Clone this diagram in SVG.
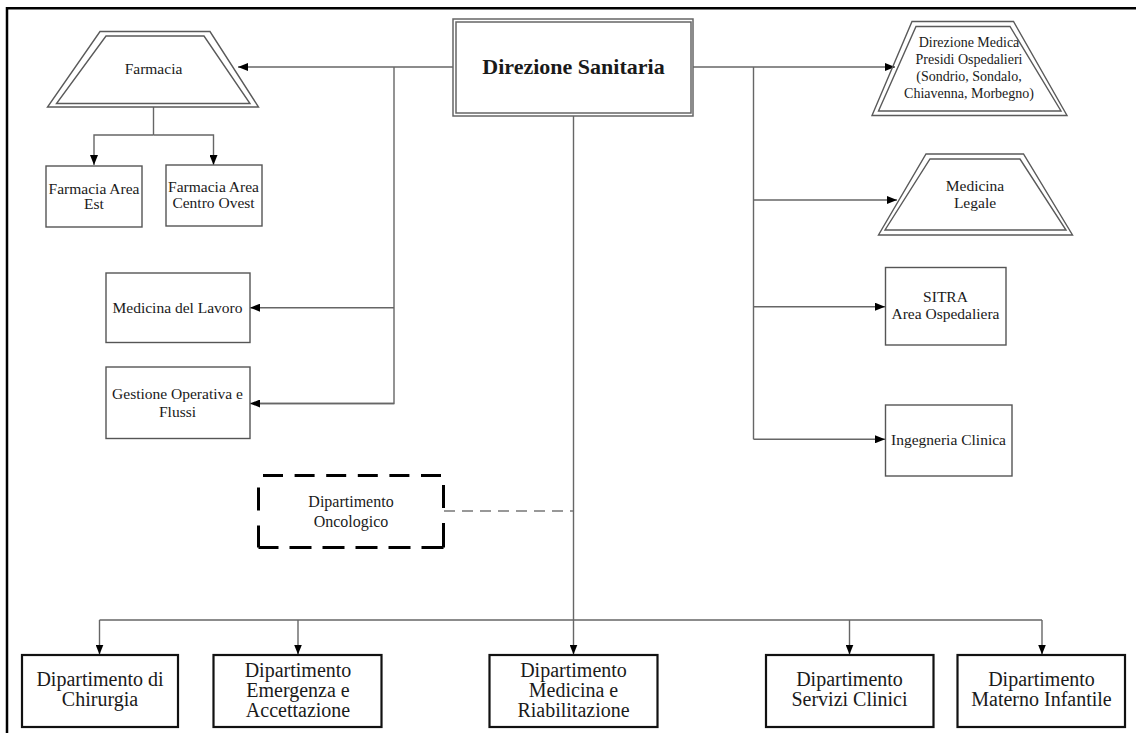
<svg xmlns="http://www.w3.org/2000/svg" width="1136" height="733" viewBox="0 0 1136 733">
  <style>
    .t { font-family: "Liberation Serif", "Times New Roman", serif; fill: #1a1a1a; text-anchor: middle; }
    .s15 { font-size: 15.5px; }
    .s14 { font-size: 14px; }
    .s16 { font-size: 16px; }
    .s20 { font-size: 20px; }
    .box { fill: #ffffff; stroke: #555555; stroke-width: 1.4; }
    .dept { fill: #ffffff; stroke: #111111; stroke-width: 2.2; }
    .dbl { fill: none; stroke: #5a5a5a; stroke-width: 1.4; }
    .con { fill: none; stroke: #666666; stroke-width: 1.4; }
    .arr { fill: none; stroke: #666666; stroke-width: 1.4; marker-end: url(#ah); }
    .frame { stroke: #000000; stroke-width: 2.5; fill: none; }
    .dash { fill: none; stroke: #000000; stroke-width: 3; }
  </style>
  <defs>
    <marker id="ah" viewBox="0 0 10 8" refX="10" refY="4" markerWidth="10" markerHeight="8" markerUnits="userSpaceOnUse" orient="auto">
      <path d="M0,0 L10,4 L0,8 z" fill="#000000"/>
    </marker>
  </defs>
  <rect width="1136" height="733" fill="#ffffff"/>
  <g id="frame">
    <path class="frame" d="M7,733 V8.3 H1136"/>
  </g>

  <g id="connectors">
    <path class="arr" d="M453,67 H238"/>
    <path class="con" d="M394,67 V403.5 H258"/>
    <path class="arr" d="M394,403.5 H250"/>
    <path class="arr" d="M394,307.7 H250"/>
    <path class="con" d="M153.5,107 V135"/>
    <path class="arr" d="M153.5,135 H94 V165"/>
    <path class="arr" d="M153.5,135 H213.5 V165"/>
    <path class="arr" d="M693,67 H895"/>
    <path class="con" d="M753.5,67 V439.3"/>
    <path class="arr" d="M753.5,200 H897"/>
    <path class="arr" d="M753.5,306.7 H885"/>
    <path class="arr" d="M753.5,439.3 H885"/>
    <path class="arr" d="M573.5,116 V654.5"/>
    <path class="con" d="M99.5,620 H1042"/>
    <path class="arr" d="M99.5,620 V654.5"/>
    <path class="arr" d="M298,620 V654.5"/>
    <path class="arr" d="M849.5,620 V654.5"/>
    <path class="arr" d="M1042,620 V654.5"/>
    <path d="M444,511 H573" fill="none" stroke="#777777" stroke-width="1.4" stroke-dasharray="11 7"/>
  </g>

  <g id="direzione-sanitaria">
    <rect x="453" y="19" width="240" height="97" fill="#ffffff" stroke="#666666" stroke-width="1.5"/>
    <rect x="456" y="22" width="235" height="91" fill="none" stroke="#666666" stroke-width="1.5"/>
    <text class="t" x="573.5" y="74" font-size="22" font-weight="bold" fill="#000000">Direzione Sanitaria</text>
  </g>

  <g id="farmacia">
    <polygon class="dbl" points="100,31.5 210,31.5 258.5,107 47.5,107" fill="#ffffff"/>
    <polygon class="dbl" points="106,36 204,36 250,103.5 56.5,103.5"/>
    <text class="t s15" x="153.5" y="74">Farmacia</text>
  </g>

  <g id="farmacia-est">
    <rect class="box" x="46" y="166" width="96" height="61"/>
    <text class="t s15" x="94" y="194">Farmacia Area</text>
    <text class="t s15" x="94" y="209">Est</text>
  </g>

  <g id="farmacia-centro-ovest">
    <rect class="box" x="166" y="165" width="96" height="61"/>
    <text class="t s15" x="213.5" y="192">Farmacia Area</text>
    <text class="t s15" x="213.5" y="207.5">Centro Ovest</text>
  </g>

  <g id="medicina-lavoro">
    <rect class="box" x="106" y="273" width="144" height="69.5"/>
    <text class="t s15" x="177.5" y="312.5">Medicina del Lavoro</text>
  </g>

  <g id="gestione-operativa">
    <rect class="box" x="106" y="367" width="144" height="71.5"/>
    <text class="t s15" x="177.5" y="398.5">Gestione Operativa e</text>
    <text class="t s15" x="177.5" y="417">Flussi</text>
  </g>

  <g id="dipartimento-oncologico">
    <rect x="258.5" y="475.5" width="185" height="72" fill="#ffffff"/>
    <path class="dash" d="M263,475.5 H441" stroke-dasharray="20 11.6"/>
    <path class="dash" d="M443.5,485 V547.5" stroke-dasharray="23 15 30"/>
    <path class="dash" d="M443.5,547.5 H258.5" stroke-dasharray="22 11"/>
    <path class="dash" d="M258.5,547.5 V475.5" stroke-dasharray="22 15 23 100"/>
    <text class="t s16" x="351" y="507">Dipartimento</text>
    <text class="t s16" x="351" y="526.5">Oncologico</text>
  </g>

  <g id="direzione-medica">
    <polygon class="dbl" points="912,21.5 1013.5,21.5 1067,115.5 872,115.5" fill="#ffffff"/>
    <polygon class="dbl" points="916,26.5 1010,26.5 1061,111 878.5,111"/>
    <text class="t s14" x="969" y="47">Direzione Medica</text>
    <text class="t s14" x="969" y="64">Presidi Ospedalieri</text>
    <text class="t s14" x="969" y="81">(Sondrio, Sondalo,</text>
    <text class="t s14" x="969" y="97.5">Chiavenna, Morbegno)</text>
  </g>

  <g id="medicina-legale">
    <polygon class="dbl" points="926,154 1023.5,154 1072.5,235 878.5,235" fill="#ffffff"/>
    <polygon class="dbl" points="930,159 1020,159 1066,230 885,230"/>
    <text class="t s15" x="975" y="191">Medicina</text>
    <text class="t s15" x="975" y="207.5">Legale</text>
  </g>

  <g id="sitra">
    <rect class="box" x="885.5" y="267.5" width="120.5" height="77.5"/>
    <text class="t s15" x="945.5" y="302">SITRA</text>
    <text class="t s15" x="945.5" y="318.5">Area Ospedaliera</text>
  </g>

  <g id="ingegneria-clinica">
    <rect class="box" x="885.5" y="405" width="126.5" height="71"/>
    <text class="t s15" x="948.5" y="445">Ingegneria Clinica</text>
  </g>

  <g id="dip-chirurgia">
    <rect class="dept" x="22" y="655" width="156" height="72"/>
    <text class="t s20" x="100" y="686">Dipartimento di</text>
    <text class="t s20" x="100" y="706">Chirurgia</text>
  </g>

  <g id="dip-emergenza">
    <rect class="dept" x="213.5" y="655" width="168" height="72"/>
    <text class="t s20" x="298" y="676.5">Dipartimento</text>
    <text class="t s20" x="298" y="696.5">Emergenza e</text>
    <text class="t s20" x="298" y="716.5">Accettazione</text>
  </g>

  <g id="dip-medicina-riabilitazione">
    <rect class="dept" x="489.5" y="655" width="168" height="72"/>
    <text class="t s20" x="573.5" y="676.5">Dipartimento</text>
    <text class="t s20" x="573.5" y="696.5">Medicina e</text>
    <text class="t s20" x="573.5" y="716.5">Riabilitazione</text>
  </g>

  <g id="dip-servizi-clinici">
    <rect class="dept" x="766" y="655" width="167.5" height="72"/>
    <text class="t s20" x="849.5" y="685.5">Dipartimento</text>
    <text class="t s20" x="849.5" y="705.5">Servizi Clinici</text>
  </g>

  <g id="dip-materno-infantile">
    <rect class="dept" x="957.5" y="655" width="167.5" height="72"/>
    <text class="t s20" x="1041.5" y="685.5">Dipartimento</text>
    <text class="t s20" x="1041.5" y="705.5">Materno Infantile</text>
  </g>
</svg>
